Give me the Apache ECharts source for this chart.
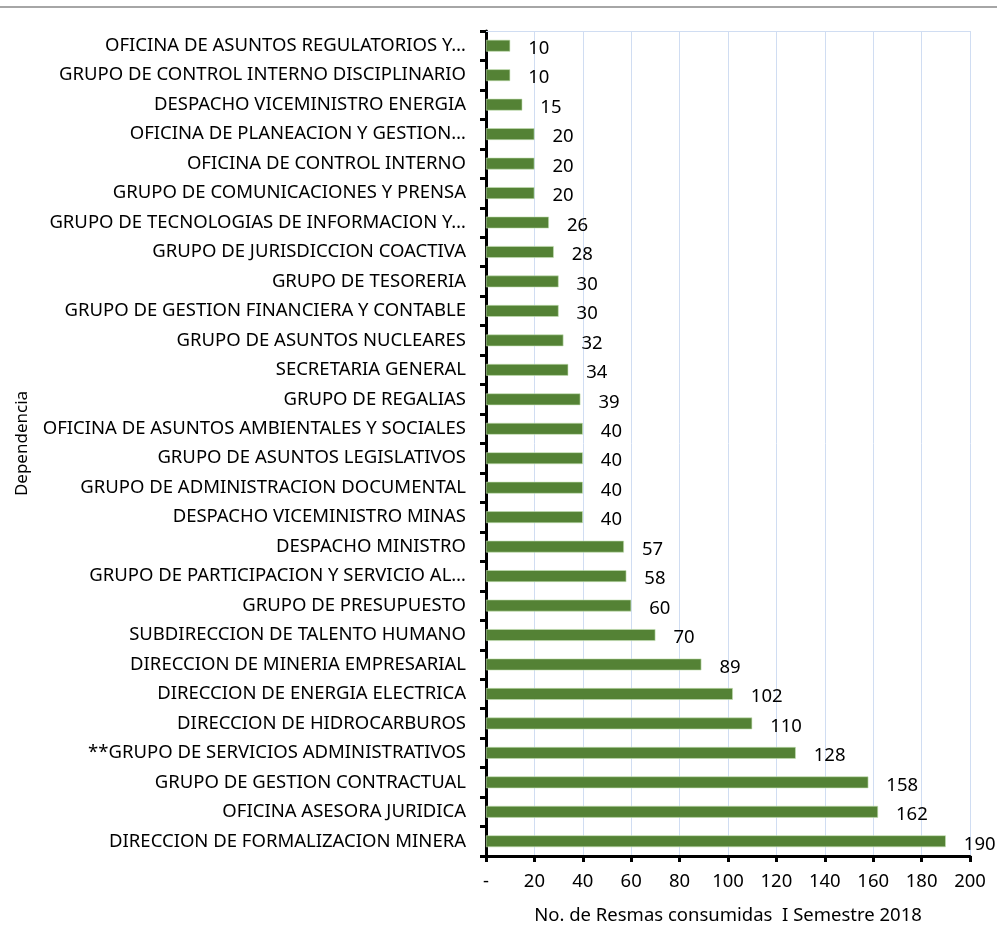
<!DOCTYPE html>
<html><head><meta charset="utf-8">
<script src="https://cdn.jsdelivr.net/npm/echarts@6/dist/echarts.min.js"></script>
<style>html,body{margin:0;padding:0;background:#fff}#c{width:997px;height:930px}</style>
</head><body><div id="c"></div>
<script>
const categories = [
"OFICINA DE ASUNTOS REGULATORIOS Y…",
"GRUPO DE CONTROL INTERNO DISCIPLINARIO",
"DESPACHO VICEMINISTRO ENERGIA",
"OFICINA DE PLANEACION Y GESTION…",
"OFICINA DE CONTROL INTERNO",
"GRUPO DE COMUNICACIONES Y PRENSA",
"GRUPO DE TECNOLOGIAS DE INFORMACION Y…",
"GRUPO DE JURISDICCION COACTIVA",
"GRUPO DE TESORERIA",
"GRUPO DE GESTION FINANCIERA Y CONTABLE",
"GRUPO DE ASUNTOS NUCLEARES",
"SECRETARIA GENERAL",
"GRUPO DE REGALIAS",
"OFICINA DE ASUNTOS AMBIENTALES Y SOCIALES",
"GRUPO DE ASUNTOS LEGISLATIVOS",
"GRUPO DE ADMINISTRACION DOCUMENTAL",
"DESPACHO VICEMINISTRO MINAS",
"DESPACHO MINISTRO",
"GRUPO DE PARTICIPACION Y SERVICIO AL…",
"GRUPO DE PRESUPUESTO",
"SUBDIRECCION DE TALENTO HUMANO",
"DIRECCION DE MINERIA EMPRESARIAL",
"DIRECCION DE ENERGIA ELECTRICA",
"DIRECCION DE HIDROCARBUROS",
"**GRUPO DE SERVICIOS ADMINISTRATIVOS",
"GRUPO DE GESTION CONTRACTUAL",
"OFICINA ASESORA JURIDICA",
"DIRECCION DE FORMALIZACION MINERA"
];
const values = [10,10,15,20,20,20,26,28,30,30,32,34,39,40,40,40,40,57,58,60,70,89,102,110,128,158,162,190];
const xTicks = ["-","20","40","60","80","100","120","140","160","180","200"];
const xAxisTitle = "No. de Resmas consumidas  I Semestre 2018";
const yAxisTitle = "Dependencia";

const FONT = "'Liberation Sans Narrow', 'Noto Sans', sans-serif";
const FS = 18.5;
const chart = echarts.init(document.getElementById('c'), null, {renderer:'canvas'});
chart.setOption({
  animation:false,
  backgroundColor:'#fff',
  textStyle:{fontFamily:FONT},
  grid:{left:486,right:27,top:31,bottom:70,containLabel:false},
  graphic:[{type:'line',shape:{x1:0,y1:7,x2:997,y2:7},style:{stroke:'#a6a6a6',lineWidth:2}}],
  xAxis:[{
    type:'value',min:0,max:200,interval:20,position:'bottom',
    name:xAxisTitle,nameLocation:'middle',nameGap:50,
    nameTextStyle:{fontSize:FS,color:'#000',fontFamily:FONT},
    axisLine:{show:true,lineStyle:{color:'#000',width:3}},
    axisTick:{show:true,length:6,lineStyle:{color:'#000',width:3}},
    axisLabel:{fontSize:FS,color:'#000',margin:16,fontFamily:FONT,
      formatter:(v)=>xTicks[Math.round(v/20)]},
    splitLine:{show:true,lineStyle:{color:'#d0ddf2',width:1}}
  },{
    type:'value',min:0,max:200,interval:20,position:'top',
    axisLine:{show:true,lineStyle:{color:'#d0ddf2',width:1}},
    axisTick:{show:false},axisLabel:{show:false},splitLine:{show:false}
  }],
  yAxis:{
    type:'category',data:categories,inverse:true,
    name:yAxisTitle,nameLocation:'middle',nameGap:455,nameRotate:90,
    nameTextStyle:{fontSize:17,color:'#000',fontFamily:FONT},
    axisLine:{show:true,lineStyle:{color:'#000',width:3}},
    axisTick:{show:true,length:6,inside:false,lineStyle:{color:'#000',width:3}},
    axisLabel:{fontSize:FS,color:'#000',margin:20,fontFamily:FONT},
    splitLine:{show:false}
  },
  series:[{
    type:'bar',data:values,barWidth:'40%',
    itemStyle:{color:'#548235',borderColor:'#c5e0b4',borderWidth:0.6},
    label:{show:true,position:'right',distance:18,fontSize:FS,color:'#000',fontFamily:FONT,offset:[0,3]}
  }]
});
</script></body></html>
